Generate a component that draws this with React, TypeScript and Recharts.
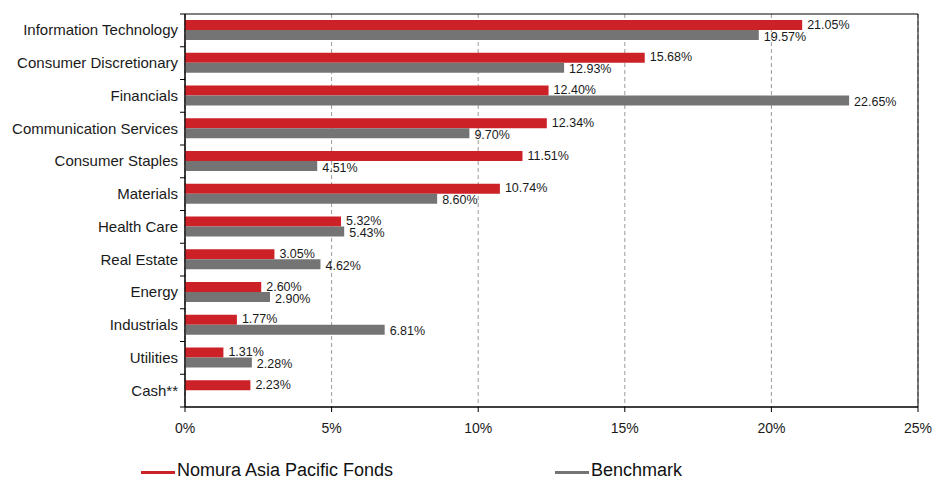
import { Bar, BarChart, CartesianGrid, LabelList, ReferenceArea, XAxis, YAxis } from 'recharts';

const SECTORS = [
  'Information Technology',
  'Consumer Discretionary',
  'Financials',
  'Communication Services',
  'Consumer Staples',
  'Materials',
  'Health Care',
  'Real Estate',
  'Energy',
  'Industrials',
  'Utilities',
  'Cash**',
];
const FUND = [21.05, 15.68, 12.4, 12.34, 11.51, 10.74, 5.32, 3.05, 2.6, 1.77, 1.31, 2.23];
const BENCHMARK = [19.57, 12.93, 22.65, 9.7, 4.51, 8.6, 5.43, 4.62, 2.9, 6.81, 2.28, null];
const X_TICKS = [0, 5, 10, 15, 20, 25];

const RED = '#cc2127';
const GREY = '#747474';
const FONT = 'Arial, "Liberation Sans", Helvetica, sans-serif';

const data = SECTORS.map((sector, i) => ({
  sector,
  fund: FUND[i],
  benchmark: BENCHMARK[i],
}));

const BAND = 393 / SECTORS.length;

function SectorTick(props: any) {
  const { y, index, payload } = props;
  return (
    <g>
      <text x={178} y={y} dy={5} textAnchor="end" fontSize={15} fill="#1a1a1a" fontFamily={FONT}>
        {payload.value}
      </text>
      {index === 0 && <line x1={180} x2={185} y1={y - BAND / 2} y2={y - BAND / 2} stroke="#000" />}
      <line x1={180} x2={185} y1={y + BAND / 2} y2={y + BAND / 2} stroke="#000" />
    </g>
  );
}

// value label right of a bar; dy nudges red labels up and grey ones down a bit
const barLabel = (dy: number) => (p: any) => {
  if (p.value == null) return null;
  const x = Number(p.x) + Number(p.width) + 5;
  const y = Number(p.y) + Number(p.height) / 2;
  return (
    <text x={x} y={y} dy={dy} fontSize={12.5} fill="#1a1a1a" fontFamily={FONT}>
      {`${Number(p.value).toFixed(2)}%`}
    </text>
  );
};

function LegendRow() {
  const item = (left: number, color: string, label: string) => (
    <div style={{ position: 'absolute', left, top: 0, display: 'flex', alignItems: 'center', height: 17 }}>
      <div style={{ width: 34, height: 3, background: color, marginRight: 2, marginTop: 3 }} />
      <span style={{ fontSize: 18, lineHeight: '17px', fontFamily: FONT, color: '#111', whiteSpace: 'nowrap' }}>
        {label}
      </span>
    </div>
  );
  return (
    <div style={{ position: 'absolute', left: 0, top: 462, width: 932, height: 17 }}>
      {item(141, RED, 'Nomura Asia Pacific Fonds')}
      {item(555, GREY, 'Benchmark')}
    </div>
  );
}

export default function App() {
  return (
    <div style={{ position: 'absolute', left: 0, top: 0, width: 932, height: 479, background: '#fff', overflow: 'hidden' }}>
      <BarChart
        width={932}
        height={479}
        data={data}
        layout="vertical"
        margin={{ top: 14, right: 14, bottom: 42, left: 0 }}
        barSize={10}
        barGap={0}
      >
        <CartesianGrid horizontal={false} stroke="#9a9a9a" strokeDasharray="4 3" />
        <XAxis
          type="number"
          domain={[0, 25]}
          ticks={X_TICKS}
          tickFormatter={(v) => `${v}%`}
          height={30}
          axisLine={{ stroke: '#000' }}
          tickLine={{ stroke: '#000' }}
          tickSize={5}
          tickMargin={11}
          tick={{ fontSize: 14, fill: '#1a1a1a', fontFamily: FONT }}
          interval={0}
        />
        <YAxis
          type="category"
          dataKey="sector"
          width={185}
          axisLine={{ stroke: '#000' }}
          tickLine={false}
          tick={<SectorTick />}
          interval={0}
        />
        <ReferenceArea x1={0} x2={25} fill="none" stroke="#000" strokeWidth={1} ifOverflow="visible" />
        <Bar dataKey="fund" name="Nomura Asia Pacific Fonds" fill={RED} isAnimationActive={false}>
          <LabelList dataKey="fund" content={barLabel(3.5)} />
        </Bar>
        <Bar dataKey="benchmark" name="Benchmark" fill={GREY} isAnimationActive={false}>
          <LabelList dataKey="benchmark" content={barLabel(5.5)} />
        </Bar>
      </BarChart>
      <LegendRow />
    </div>
  );
}
